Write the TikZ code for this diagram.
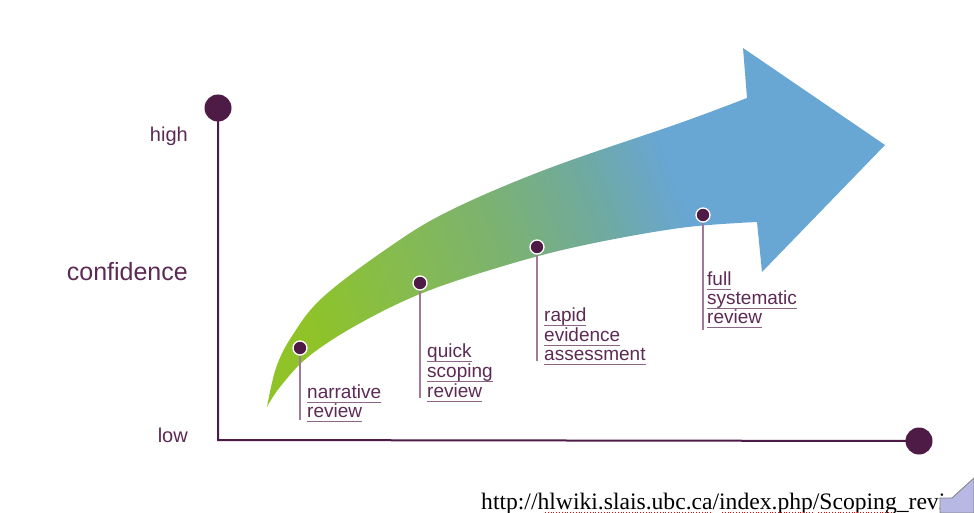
\documentclass[tikz,border=0pt]{standalone}
\usepackage{fontspec}
\setmainfont{Liberation Sans}
\newfontfamily\urlfont{Liberation Serif}
\definecolor{plum}{RGB}{78,26,70}
\definecolor{txt}{RGB}{92,42,84}
\definecolor{ulcol}{RGB}{140,100,135}
\definecolor{stemcol}{RGB}{160,122,155}
\definecolor{ag1}{RGB}{143,195,40}
\definecolor{ag2}{RGB}{134,188,76}
\definecolor{ag3}{RGB}{124,178,112}
\definecolor{ag4}{RGB}{112,170,158}
\definecolor{ag5}{RGB}{104,166,212}
\definecolor{lav}{RGB}{184,184,228}
\pgfdeclarehorizontalshading{arrowshade}{100bp}{color(0bp)=(ag1); color(24bp)=(ag1); color(33bp)=(ag2); color(43bp)=(ag3); color(52bp)=(ag4); color(60bp)=(ag5); color(100bp)=(ag5)}
\newcommand\ulw[1]{\setbox0\hbox{#1}\rlap{\textcolor{ulcol}{\rule[-5pt]{\wd0}{1.3pt}}}\box0}
\tikzset{
  pdot/.style={circle, fill=plum, draw=white, line width=1.3pt, minimum size=14pt, inner sep=0pt},
  bigdot/.style={circle, fill=plum, minimum size=27pt, inner sep=0pt},
  axisline/.style={draw=plum, line width=2pt},
  stemline/.style={draw=stemcol, line width=1.6pt},
  axlab/.style={anchor=base east, inner sep=0pt, text=txt, font=\fontsize{20}{22}\selectfont},
  revlab/.style={anchor=base west, inner sep=0pt, text=txt, font=\fontsize{19}{20}\selectfont}
}
\begin{document}
\begin{tikzpicture}[x=1pt,y=-1pt]
\useasboundingbox (0,0) rectangle (974,513);
\clip (0,0) rectangle (974,513);
% arrow
\shade[shading=arrowshade, shading angle=20]
  plot[smooth,tension=0.6] coordinates {(267,407) (276,368) (292,336) (322,298) (385,250) (447,212) (547,169) (680,123) (747,98)}
  -- (743,48) -- (885,145) -- (762,272)
  -- plot[smooth,tension=0.6] coordinates {(757,222) (680,228) (580,246) (500,267) (420,294) (355,326) (308,357) (280,387) (267,407)}
  -- cycle;
% axes
\node[bigdot] (top) at (218,108) {};
\node[bigdot] (end) at (919,441) {};
\coordinate (origin) at (218,440);
\draw[axisline] (top.center) -- (origin) -- (end.center);
\node[axlab] (high) at (188,142) {high};
\node[axlab, font=\fontsize{25}{27}\selectfont] (conf) at (188,280) {confidence};
\node[axlab] (low) at (188,442) {low};
% stems and dots
\node[pdot] (d1) at (300,348) {};
\node[pdot] (d2) at (420,283) {};
\node[pdot] (d3) at (537,247) {};
\node[pdot] (d4) at (703,215) {};
\coordinate (e1) at (300,420);
\coordinate (e2) at (420,398);
\coordinate (e3) at (537,361);
\coordinate (e4) at (703,330);
\draw[stemline] (d1) -- (e1);
\draw[stemline] (d2) -- (e2);
\draw[stemline] (d3) -- (e3);
\draw[stemline] (d4) -- (e4);
% labels
\node[revlab] (n1a) at (307,398) {\ulw{narrative}};
\node[revlab] (n1b) at (307,417) {\ulw{review}};
\node[revlab] (n2a) at (427,357) {\ulw{quick}};
\node[revlab] (n2b) at (427,377) {\ulw{scoping}};
\node[revlab] (n2c) at (427,397) {\ulw{review}};
\node[revlab] (n3a) at (544,321) {\ulw{rapid}};
\node[revlab] (n3b) at (544,341) {\ulw{evidence}};
\node[revlab] (n3c) at (544,360) {\ulw{assessment}};
\node[revlab] (n4a) at (707,285) {\ulw{full}};
\node[revlab] (n4b) at (707,304) {\ulw{systematic}};
\node[revlab] (n4c) at (707,323) {\ulw{review}};
% url
\node[anchor=base west, inner sep=0pt, font=\urlfont\fontsize{23.6}{26}\selectfont] (url) at (481,509.5) {http://hlwiki.slais.ubc.ca/index.php/Scoping\_review};
\draw[red, dotted, line width=0.8pt] (545,512.5) -- (712,512.5);
\draw[red, dotted, line width=0.8pt] (722,512.5) -- (812,512.5);
\draw[red, dotted, line width=0.8pt] (818,512.5) -- (893,512.5);
\filldraw[fill=lav, draw=gray, line width=0.8pt] (940,498) -- (952,498) -- (974,478) -- (974,513) -- (940,513) -- cycle;
\end{tikzpicture}
\end{document}
